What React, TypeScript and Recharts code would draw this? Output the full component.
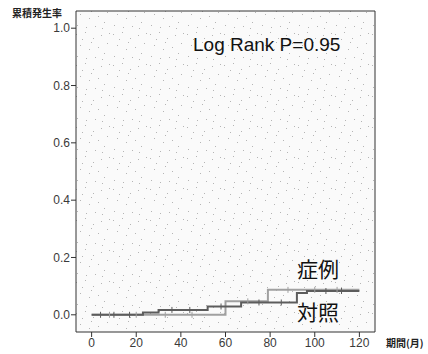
import { LineChart, Line, XAxis, YAxis, ReferenceArea } from 'recharts'

// 症例 (case) — step points: [month, cumulative incidence]
const caseMonths = [0, 4, 10, 17, 23, 30, 36, 44, 52, 58, 67, 75, 85, 92, 96.5, 105, 112, 120]
const caseValues = [0, 0, 0, 0, 0.008, 0.017, 0.017, 0.017, 0.029, 0.029, 0.043, 0.043, 0.043, 0.076, 0.083, 0.083, 0.083, 0.083]
const caseCensored = [false, true, true, true, false, false, true, true, false, true, false, true, true, false, false, true, true, false]

// 対照 (control)
const ctrlMonths = [0, 8, 20, 33, 45, 60, 70, 79, 88, 100, 110, 120]
const ctrlValues = [0, 0, 0, 0, 0, 0.047, 0.047, 0.087, 0.087, 0.087, 0.087, 0.087]
const ctrlCensored = [false, true, true, true, true, false, true, false, true, true, true, false]

const xTicks = [0, 20, 40, 60, 80, 100, 120]
const yTicks = [0, 0.2, 0.4, 0.6, 0.8, 1.0]

const caseData = caseMonths.map((m, i) => ({ month: m, value: caseValues[i], censored: caseCensored[i] }))
const ctrlData = ctrlMonths.map((m, i) => ({ month: m, value: ctrlValues[i], censored: ctrlCensored[i] }))

// speckle positions for the scanned-paper background
const SPECKS = [
  [2, 3], [11, 1], [19, 7], [27, 4], [33, 12], [6, 14], [15, 18], [24, 16],
  [30, 22], [3, 25], [12, 27], [21, 26], [35, 2], [8, 8], [28, 28], [17, 11],
]

const CensorMark = (props: any) => {
  const { cx, cy, payload, stroke } = props
  if (!payload?.censored || cx == null) return <g />
  return <line x1={cx} x2={cx} y1={cy - 3} y2={cy + 3} stroke={stroke} strokeWidth={1} />
}

export default function App() {
  const font = { fontSize: 12, fill: '#3a3a3a', fontFamily: 'Liberation Sans, Arial, sans-serif' }
  return (
    <div style={{ position: 'fixed', left: 0, top: 0, width: 428, height: 354, background: '#fff' }}>
      <LineChart width={428} height={354} margin={{ top: 11, right: 53, bottom: 0, left: 0 }}>
        <defs>
          <pattern id="speckle" width="37" height="31" patternUnits="userSpaceOnUse">
            <rect width="37" height="31" fill="#fafafa" />
            {SPECKS.map(([x, y], i) => (
              <rect key={i} x={x} y={y} width={1} height={1} fill="#b5b5b5" />
            ))}
          </pattern>
        </defs>
        <XAxis
          dataKey="month"
          type="number"
          domain={[-7, 127]}
          ticks={xTicks}
          allowDataOverflow
          height={22}
          tick={font}
          tickSize={5}
          tickMargin={1}
          axisLine={false}
          tickLine={{ stroke: '#333' }}
        />
        <YAxis
          type="number"
          domain={[-0.06, 1.06]}
          ticks={yTicks}
          allowDataOverflow
          width={76}
          tick={font}
          tickSize={5}
          tickMargin={1}
          tickFormatter={(v: number) => v.toFixed(1)}
          axisLine={false}
          tickLine={{ stroke: '#333' }}
        />
        <ReferenceArea x1={-7} x2={127} y1={-0.06} y2={1.06} fill="url(#speckle)" fillOpacity={1} stroke="#333" strokeWidth={1} />
        <Line
          data={ctrlData}
          dataKey="value"
          type="stepAfter"
          stroke="#a0a0a0"
          strokeWidth={2}
          dot={<CensorMark />}
          isAnimationActive={false}
        />
        <Line
          data={caseData}
          dataKey="value"
          type="stepAfter"
          stroke="#5c5c5c"
          strokeWidth={2}
          dot={<CensorMark />}
          isAnimationActive={false}
        />
      </LineChart>
      <div style={{ position: 'absolute', left: 12, top: 5, fontSize: 10, fontWeight: 'bold', fontFamily: '"Noto Sans CJK JP", sans-serif', color: '#222' }}>
        累積発生率
      </div>
      <div style={{ position: 'absolute', left: 386, top: 335, fontSize: 10, fontWeight: 'bold', fontFamily: '"Noto Sans CJK JP", sans-serif', color: '#222' }}>
        期間(月)
      </div>
      <div style={{ position: 'absolute', left: 193, top: 34, fontSize: 19, fontFamily: 'Liberation Sans, Arial, sans-serif', color: '#111' }}>
        Log Rank P=0.95
      </div>
      <div style={{ position: 'absolute', left: 297, top: 256, fontSize: 21, fontFamily: '"Noto Sans CJK JP", sans-serif', color: '#111', lineHeight: 1.2 }}>
        症例
      </div>
      <div style={{ position: 'absolute', left: 297, top: 299, fontSize: 21, fontFamily: '"Noto Sans CJK JP", sans-serif', color: '#111', lineHeight: 1.2 }}>
        対照
      </div>
    </div>
  )
}
